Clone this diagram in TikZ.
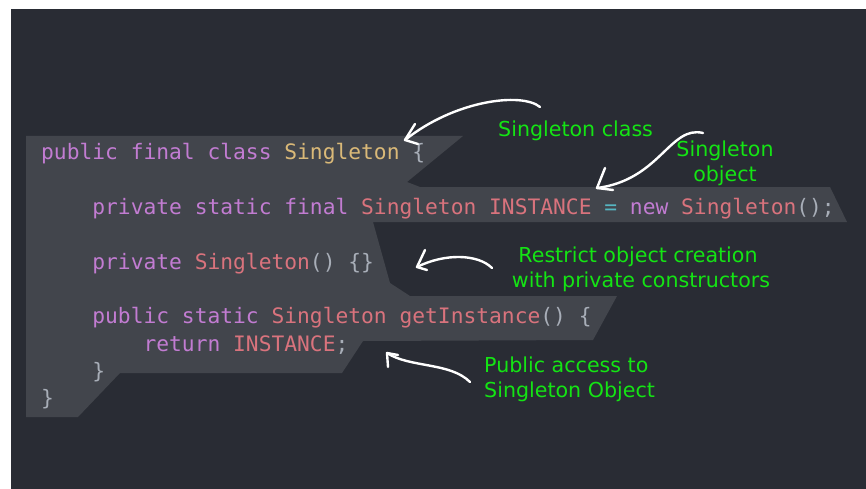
\documentclass[tikz,border=0pt]{standalone}
\usepackage{fontspec}
\newfontfamily\codefont{DejaVu Sans Mono}
\newfontfamily\labelfont{DejaVu Sans}
\definecolor{bgdark}{HTML}{292C34}
\definecolor{band}{HTML}{42454C}
\definecolor{kw}{HTML}{C27CD2}
\definecolor{ty}{HTML}{DAB978}
\definecolor{rd}{HTML}{D9737D}
\definecolor{pn}{HTML}{A8AEB8}
\definecolor{cy}{HTML}{56B6C2}
\definecolor{lbl}{HTML}{14E414}
\tikzset{
  codeline/.style={anchor=base west, inner sep=0pt, font=\codefont\fontsize{21.26}{27.3}\selectfont},
  note/.style={inner sep=0pt, text=lbl, font=\labelfont\fontsize{20.6}{25}\selectfont},
  hand/.style={draw=white, line width=2.4pt, line cap=round, line join=round},
}
\frenchspacing
\begin{document}
\begin{tikzpicture}[x=1pt, y=-1pt]
\useasboundingbox (0,0) rectangle (866,489);
\fill[white] (0,0) rectangle (866,489);
\fill[bgdark] (11,9) rectangle (866,489);
% code band
\fill[band] (26,136) -- (463,136) -- (407,182) -- (420,187) -- (830,187) -- (847,222)
  -- (373,222) -- (390,283) -- (410,296) -- (617,296) -- (593,340) -- (363,341)
  -- (342,373) -- (120,373) -- (78,417) -- (26,417) -- cycle;
% code lines
\node[codeline] (l1) at (41,160) {\textcolor{kw}{public final class} \textcolor{ty}{Singleton} \textcolor{pn}{\{}};
\node[codeline] (l2) at (92.2,214.6) {\textcolor{kw}{private static final} \textcolor{rd}{Singleton INSTANCE} \textcolor{cy}{=} \textcolor{kw}{new} \textcolor{rd}{Singleton}\textcolor{pn}{();}};
\node[codeline] (l3) at (92.2,269.2) {\textcolor{kw}{private} \textcolor{rd}{Singleton}\textcolor{pn}{() \{\}}};
\node[codeline] (l4) at (92.2,323.8) {\textcolor{kw}{public static} \textcolor{rd}{Singleton getInstance}\textcolor{pn}{() \{}};
\node[codeline] (l5) at (143.4,351.1) {\textcolor{kw}{return} \textcolor{rd}{INSTANCE}\textcolor{pn}{;}};
\node[codeline] (l6) at (92.2,378.4) {\textcolor{pn}{\}}};
\node[codeline] (l7) at (41,405.7) {\textcolor{pn}{\}}};
% labels
\node[note, anchor=base west] (n1) at (498,137) {Singleton class};
\node[note, anchor=base] (n2a) at (725,157) {Singleton};
\node[note, anchor=base] (n2b) at (725,182) {object};
\node[note, anchor=base] (n3a) at (638,262) {Restrict object creation};
\node[note, anchor=base] (n3b) at (641,287) {with private constructors};
\node[note, anchor=base west] (n4a) at (484,372) {Public access to};
\node[note, anchor=base west] (n4b) at (484,397) {Singleton Object};
% arrow anchors
\coordinate (a1s) at (540,107); \coordinate (a1t) at (405,140);
\coordinate (a2s) at (703,133); \coordinate (a2t) at (597,188);
\coordinate (a3s) at (492,268); \coordinate (a3t) at (417,267);
\coordinate (a4s) at (470,382); \coordinate (a4t) at (387,353);
% arrows
\draw[hand] (a1s) .. controls (522,92) and (455,100) .. (a1t);
\draw[hand] (415,124) -- (a1t) -- (418,144);
\draw[hand] (a2s) .. controls (670,125) and (660,180) .. (a2t);
\draw[hand] (605,168) -- (a2t) -- (613,190);
\draw[hand] (a3s) .. controls (478,254) and (445,253) .. (a3t);
\draw[hand] (425,250) -- (a3t) -- (427,270);
\draw[hand] (a4s) .. controls (450,362) and (410,368) .. (a4t);
\draw[hand] (388,367) -- (a4t) -- (398,355);
\end{tikzpicture}
\end{document}
